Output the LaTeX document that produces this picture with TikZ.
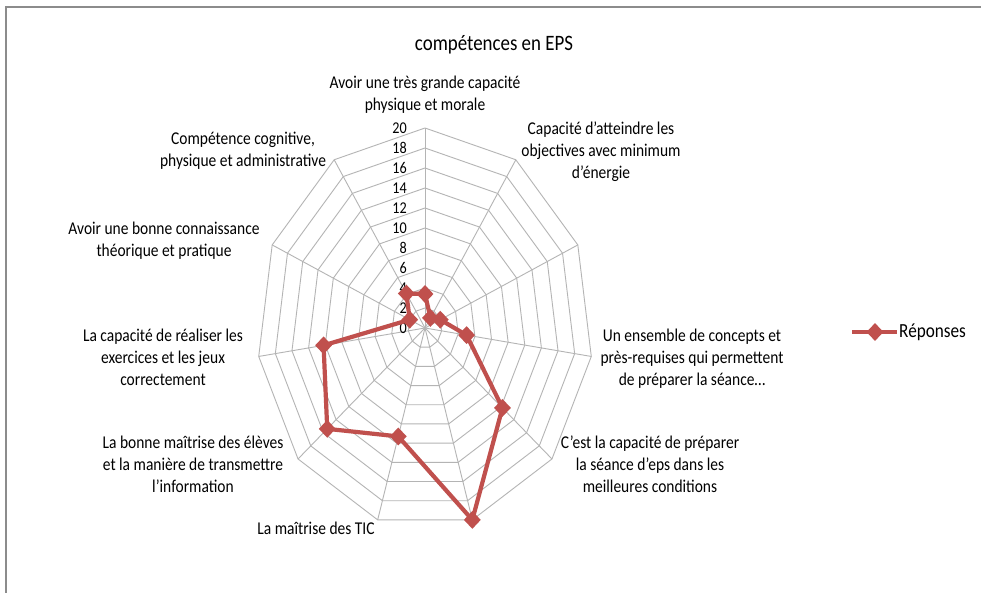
\documentclass[tikz,border=0pt]{standalone}
\usepackage{fontspec}
\usepackage{graphicx}
\setmainfont{Carlito}
\usetikzlibrary{shapes.geometric}
\definecolor{serie}{RGB}{192,80,77}
\definecolor{gridc}{RGB}{180,180,180}
\definecolor{framec}{RGB}{140,140,140}
\definecolor{txt}{RGB}{0,0,0}
\newcommand{\sqz}[1]{\scalebox{0.86}[1]{\begin{tabular}{@{}c@{}}#1\end{tabular}}}
\tikzset{
  gridline/.style={draw=gridc, line width=0.9pt},
  frameline/.style={draw=framec, line width=2pt},
  serieline/.style={draw=serie, line width=4.2pt, line join=round},
  dmark/.style={shape=diamond, fill=serie, inner sep=0pt, minimum width=17pt, minimum height=18pt},
  catlabel/.style={inner sep=0pt, text=txt, font=\fontsize{18}{22}\selectfont},
  ticklabel/.style={inner sep=0pt, anchor=east, text=txt, font=\fontsize{16.5}{18}\selectfont},
}
\begin{document}
\begin{tikzpicture}[x=1pt,y=-1pt]
\useasboundingbox (0,0) rectangle (981,593);
\fill[white] (0,0) rectangle (981,593);
\draw[frameline] (5.5,594) -- (5.5,7.5) -- (982,7.5);
% grid rings
\foreach \r in {2,4,...,20} {
  \draw[gridline] (425,{328-10*\r}) \foreach \k in {1,...,10} { -- ({425+8.4*\r*cos(90-\k*360/11)},{328-10*\r*sin(90-\k*360/11)}) } -- cycle;
}
% spokes
\coordinate (c) at (425,328);
\foreach \k in {0,...,10} {
  \coordinate (s\k) at ({425+168*cos(90-\k*360/11)},{328-200*sin(90-\k*360/11)});
  \draw[gridline] (c) -- (s\k);
}
% tick labels
\foreach \v in {0,2,...,20} {
  \node[ticklabel] (t\v) at (407,{328-10*\v}) {\scalebox{0.86}[1]{\v}};
}
% data
\foreach \k/\v in {0/3.4,1/1.2,2/2,3/5,4/12.2,5/20,6/11.3,7/15.4,8/12.2,9/2,10/4.1} {
  \coordinate (d\k) at ({425+8.4*\v*cos(90-\k*360/11)},{328-10*\v*sin(90-\k*360/11)});
}
\draw[serieline] (d0) -- (d1) -- (d2) -- (d3) -- (d4) -- (d5) -- (d6) -- (d7) -- (d8) -- (d9) -- (d10) -- cycle;
\foreach \k in {0,...,10} { \node[dmark] (m\k) at (d\k) {}; }
% title
\node[inner sep=0pt, text=txt, font=\fontsize{22}{24}\selectfont] (title) at (494,45) {\scalebox{0.86}[1]{compétences en EPS}};
% category labels
\node[catlabel] (l0) at (425,95) {\sqz{Avoir une très grande capacité\\physique et morale}};
\node[catlabel] (l1) at (601,152) {\sqz{Capacité d’atteindre les\\objectives avec minimum\\d’énergie}};
\node[catlabel] (l3) at (692,359) {\sqz{Un ensemble de concepts et\\près-requises qui permettent\\de préparer la séance…}};
\node[catlabel] (l4) at (650,466) {\sqz{C’est la capacité de préparer\\la séance d’eps dans les\\meilleures conditions}};
\node[catlabel] (l6) at (316,530) {\sqz{La maîtrise des TIC}};
\node[catlabel] (l7) at (193,466) {\sqz{La bonne maîtrise des élèves\\et la manière de transmettre\\l’information}};
\node[catlabel] (l8) at (163,359) {\sqz{La capacité de réaliser les\\exercices et les jeux\\correctement}};
\node[catlabel] (l9) at (164,241.5) {\sqz{Avoir une bonne connaissance\\théorique et pratique}};
\node[catlabel] (l10) at (243,151) {\sqz{Compétence cognitive,\\physique et administrative}};
% legend
\coordinate (la) at (852,332);
\coordinate (lb) at (897,332);
\draw[serieline] (la) -- (lb);
\node[dmark] (lm) at (875,332) {};
\node[catlabel, anchor=west, font=\fontsize{20}{22}\selectfont] (lt) at (899,332) {\scalebox{0.86}[1]{Réponses}};
\end{tikzpicture}
\end{document}
